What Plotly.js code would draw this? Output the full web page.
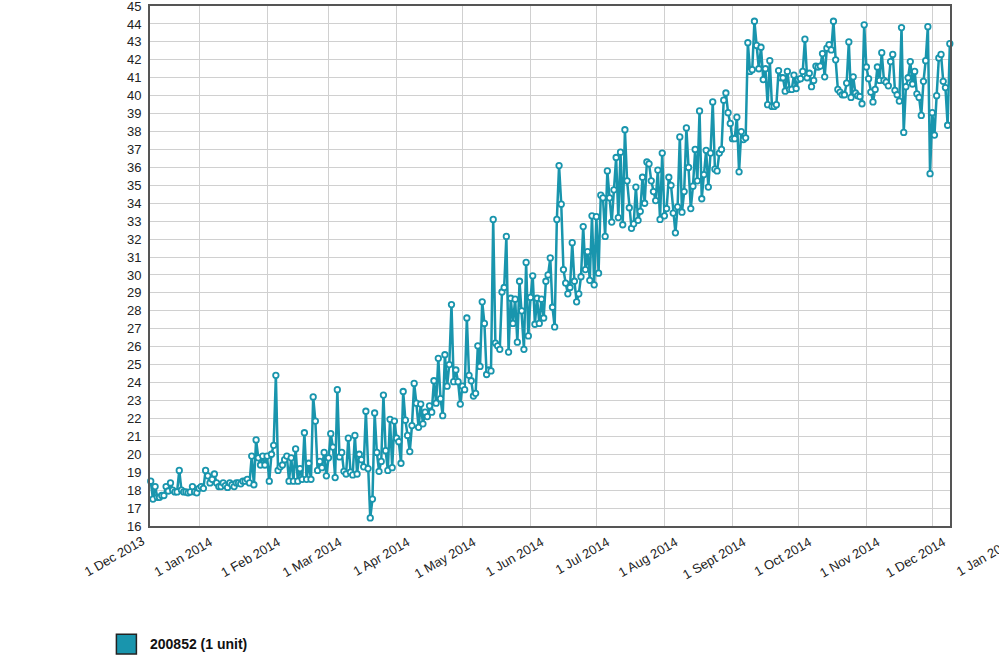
<!DOCTYPE html>
<html>
<head>
<meta charset="utf-8">
<script src="https://cdn.plot.ly/plotly-3.0.1.min.js"></script>
<style>
    html, body { margin: 0; padding: 0; background: #fff; }
    #chart { width: 999px; height: 668px; }
</style>
</head>
<body>
<div id="chart"></div>
<script>
// One reading per day, first reading on 10 Dec 2013.
const firstDay = "2013-12-10";
const seriesName = "200852 (1 unit)";

const values = [
    // 10 Dec 2013 - 22 Feb 2014
    18.5, 17.5, 18.2, 17.6, 17.6, 17.7, 17.7, 18.2, 17.95, 18.4,
    18.0, 17.9, 17.9, 19.1, 18.0, 17.9, 17.9, 17.85, 17.9, 18.2,
    17.9, 17.85, 18.1, 18.2, 18.1, 19.1, 18.8, 18.4, 18.6, 18.9,
    18.4, 18.2, 18.2, 18.4, 18.25, 18.15, 18.4, 18.3, 18.2, 18.4,
    18.4, 18.35, 18.5, 18.5, 18.6, 18.4, 19.9, 18.3, 20.8, 19.8,
    19.4, 19.9, 19.4, 19.9, 18.5, 20.0, 20.5, 24.4, 19.1, 19.3,
    19.4, 19.7, 19.9, 18.5, 19.8, 18.5, 20.3, 18.5, 19.2, 18.6,
    21.2, 18.6, 19.5, 18.6, 23.2,
    // 23 Feb - 4 May
    21.85, 19.1, 19.6, 19.25, 20.1, 18.8, 19.8, 21.15, 20.4, 18.7,
    23.6, 19.85, 20.1, 19.05, 18.9, 20.9, 19.0, 18.85, 21.05, 18.9,
    20.0, 19.7, 19.3, 22.4, 19.2, 16.45, 17.5, 22.3, 20.1, 19.05,
    19.6, 23.3, 20.2, 19.1, 21.95, 19.25, 21.85, 20.9, 20.7, 19.5,
    23.5, 21.9, 21.05, 20.15, 21.6, 23.95, 22.85, 21.5, 22.8, 21.7,
    22.35, 22.1, 22.7, 22.35, 24.1, 22.85, 25.35, 23.1, 22.15, 25.55,
    23.8, 25.0, 28.35, 24.05, 24.7, 24.05, 22.8, 23.8, 23.6, 27.6,
    24.4,
    // 5 May - 13 Jun
    24.1, 23.25, 23.4, 26.05, 24.9, 28.5, 27.3, 24.45, 24.7, 24.65,
    33.1, 26.2, 26.05, 25.85, 29.05, 29.3, 32.15, 25.7, 28.7, 27.3,
    28.65, 26.25, 29.65, 28.0, 25.85, 30.7, 26.6, 28.75, 29.95, 27.25,
    28.7, 27.3, 28.65, 27.6, 29.65, 30.0, 30.95, 28.2, 27.1, 33.1,
    // 14 Jun - 13 Jul
    36.1, 33.95, 30.3, 29.55, 28.95, 29.3, 31.8, 29.65, 28.5, 28.95,
    29.9, 32.7, 30.3, 31.3, 29.7, 33.3, 29.45, 33.25, 30.1, 34.45,
    34.3, 32.15, 35.8, 34.3, 32.95, 34.75, 36.55, 33.2, 36.85, 32.8,
    // 14 Jul - 25 Sep
    38.1, 35.25, 33.75, 32.6, 32.85, 34.9, 33.05, 33.55, 35.45, 34.0,
    36.3, 36.2, 35.25, 34.65, 34.15, 35.85, 33.1, 36.8, 33.3, 33.7,
    35.45, 35.0, 33.45, 32.35, 33.8, 37.7, 33.5, 34.65, 38.2, 36.0,
    33.7, 34.95, 37.0, 35.25, 39.15, 34.25, 35.6, 36.95, 34.9, 36.8,
    39.65, 35.9, 35.8, 36.8, 37.0, 39.75, 40.15, 39.05, 38.45, 37.6,
    37.6, 38.8, 35.75, 38.0, 37.55, 37.65, 42.95, 41.35, 41.45, 44.15,
    42.8, 41.5, 42.7, 40.9, 41.5, 39.5, 41.95, 39.4, 39.4, 39.5,
    41.4, 41.0, 41.0, 40.25,
    // 26 Sep - 9 Dec
    41.35, 40.35, 40.35, 41.15, 40.4, 40.9, 40.95, 41.35, 43.15, 41.0,
    41.25, 40.5, 40.85, 41.65, 41.6, 41.65, 42.35, 41.05, 42.65, 42.85,
    42.55, 44.15, 42.0, 40.35, 40.2, 40.05, 40.05, 40.7, 43.0, 39.9,
    41.05, 40.15, 40.0, 39.95, 39.55, 43.95, 41.6, 40.95, 40.2, 39.65,
    40.35, 41.6, 40.85, 42.4, 40.85, 40.75, 40.55, 41.9, 42.3, 40.3,
    40.05, 39.7, 43.8, 37.95, 40.5, 41.0, 41.9, 40.65, 41.35, 40.1,
    39.9, 38.9, 40.8, 41.95, 43.85, 35.65, 39.05, 37.8, 40.0, 42.1,
    42.3, 40.8, 40.45, 38.35, 42.9,
];

// Axis window and the month labels inside it
const xRange = ["2013-12-09 16:00", "2014-12-09 02:00"];
const tickDates = [
    "2014-01-01", "2014-02-01", "2014-03-01", "2014-04-01",
    "2014-05-01", "2014-06-01", "2014-07-01", "2014-08-01", "2014-09-01",
    "2014-10-01", "2014-11-01", "2014-12-01",
];
const tickLabels = [
    "1 Jan 2014", "1 Feb 2014", "1 Mar 2014", "1 Apr 2014",
    "1 May 2014", "1 Jun 2014", "1 Jul 2014", "1 Aug 2014", "1 Sept 2014",
    "1 Oct 2014", "1 Nov 2014", "1 Dec 2014",
];
// The two labels that sit on the frame ends (the last one runs off the page)
const edgeLabels = ["1 Dec 2013", "1 Jan 2015"];

const teal = "#1995ad";
const font = "'Liberation Sans', Arial, sans-serif";

const start = Date.parse(firstDay + "T00:00:00Z");
const dates = values.map((v, i) =>
    new Date(start + i * 86400000).toISOString().slice(0, 10));

const edgeNote = (text, x) => ({
    xref: "paper", yref: "paper",
    x: x, y: -0.058,
    xanchor: "center", yanchor: "middle",
    text: text,
    textangle: -30,
    showarrow: false,
    font: { family: font, size: 13, color: "#222" },
});

Plotly.newPlot("chart", [{
    type: "scatter",
    mode: "lines+markers",
    name: seriesName,
    x: dates,
    y: values,
    line: { color: teal, width: 2.5 },
    marker: { color: "#fff", size: 5.5, line: { color: teal, width: 1.8 } },
    cliponaxis: false,
    showlegend: false,
}], {
    width: 999,
    height: 668,
    paper_bgcolor: "#fff",
    plot_bgcolor: "#fff",
    margin: { l: 150, r: 49, t: 6, b: 142 },
    font: { family: font, size: 13, color: "#222" },
    xaxis: {
        type: "date",
        range: xRange,
        tickmode: "array",
        tickvals: tickDates,
        ticktext: tickLabels,
        tickangle: -30,
        ticklabelshift: 11,
        ticklabelstandoff: 2,
        ticks: "",
        showgrid: true,
        gridcolor: "#d0d0d0",
        gridwidth: 1,
        showline: true,
        linecolor: "#555",
        linewidth: 2,
        mirror: true,
        zeroline: false,
        tickfont: { family: font, size: 13, color: "#222" },
    },
    yaxis: {
        range: [15.999, 45.001],
        dtick: 1,
        tick0: 16,
        ticks: "",
        ticklabelstandoff: 4,
        ticklabeloverflow: "allow",
        showgrid: true,
        gridcolor: "#d0d0d0",
        gridwidth: 1,
        showline: true,
        linecolor: "#555",
        linewidth: 2,
        mirror: true,
        zeroline: false,
        tickfont: { family: font, size: 13, color: "#222" },
    },
    // Legend box drawn by hand so it keeps the square swatch
    shapes: [{
        type: "rect",
        xref: "paper", yref: "paper",
        x0: -0.042, x1: -0.017, y0: -0.246, y1: -0.208,
        fillcolor: teal,
        line: { color: "#222", width: 1.5 },
    }],
    annotations: [
        edgeNote(edgeLabels[0], -0.045),
        edgeNote(edgeLabels[1], 1.044),
        {
            xref: "paper", yref: "paper",
            x: -0.0025, y: -0.227,
            xanchor: "left", yanchor: "middle",
            text: "<b>" + seriesName + "</b>",
            showarrow: false,
            font: { family: font, size: 14, color: "#111" },
        },
    ],
}, { displayModeBar: false, staticPlot: true });
</script>
</body>
</html>
